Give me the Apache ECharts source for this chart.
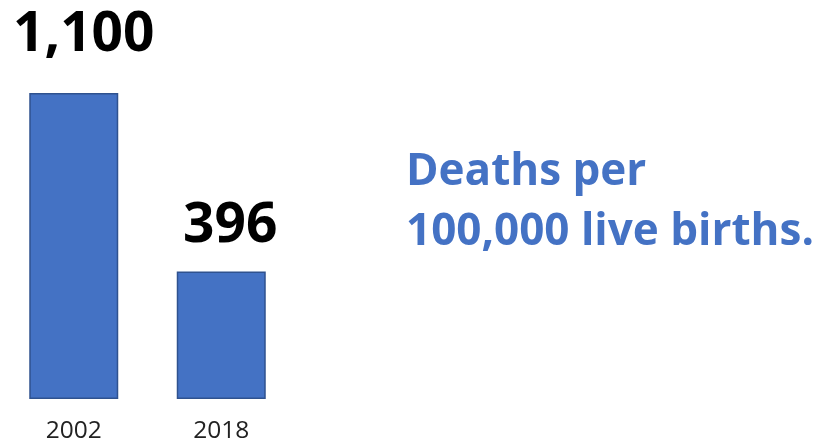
<!DOCTYPE html>
<html>
<head>
<meta charset="utf-8">
<script src="https://cdn.jsdelivr.net/npm/echarts@6/dist/echarts.min.js"></script>
<style>
html,body{margin:0;padding:0;background:#fff;}
#chart{width:838px;height:444px;}
</style>
</head>
<body>
<div id="chart"></div>
<script>
const categories = ['2002', '2018'];
const values = [1100, 396];
const valueLabels = ['1,100', '396'];
const noteLines = ['Deaths per', '100,000 live births.'];

const labelOffsets = [[10, -30], [9, -18]];

const chart = echarts.init(document.getElementById('chart'), null, {renderer: 'canvas'});
chart.setOption({
  animation: false,
  backgroundColor: '#ffffff',
  grid: {left: -1, width: 296, top: 93, height: 307, containLabel: false},
  xAxis: {
    type: 'category',
    data: categories,
    axisLine: {show: false},
    axisTick: {show: false},
    axisLabel: {fontFamily: 'Open Sans', fontSize: 24.5, color: '#222', margin: 20}
  },
  yAxis: {
    type: 'value',
    min: -107,
    max: 1100,
    startValue: -107,
    show: false,
    splitLine: {show: false}
  },
  series: [{
    type: 'bar',
    barWidth: 89,
    data: values.map((v, i) => ({
      value: v,
      label: {offset: labelOffsets[i]}
    })),
    itemStyle: {color: '#4472C4', borderColor: '#2F528F', borderWidth: 1.5},
    label: {
      show: true,
      position: 'top',
      distance: 0,
      fontFamily: 'Open Sans',
      fontWeight: 'bold',
      fontSize: 55,
      color: '#000',
      formatter: p => valueLabels[p.dataIndex]
    }
  }],
  graphic: [{
    type: 'text',
    left: 406,
    top: 142,
    style: {
      text: noteLines.join('\n'),
      fontFamily: 'Open Sans',
      fontWeight: 'bold',
      fontSize: 44,
      lineHeight: 60,
      fill: '#4472C4'
    }
  }]
});
</script>
</body>
</html>
